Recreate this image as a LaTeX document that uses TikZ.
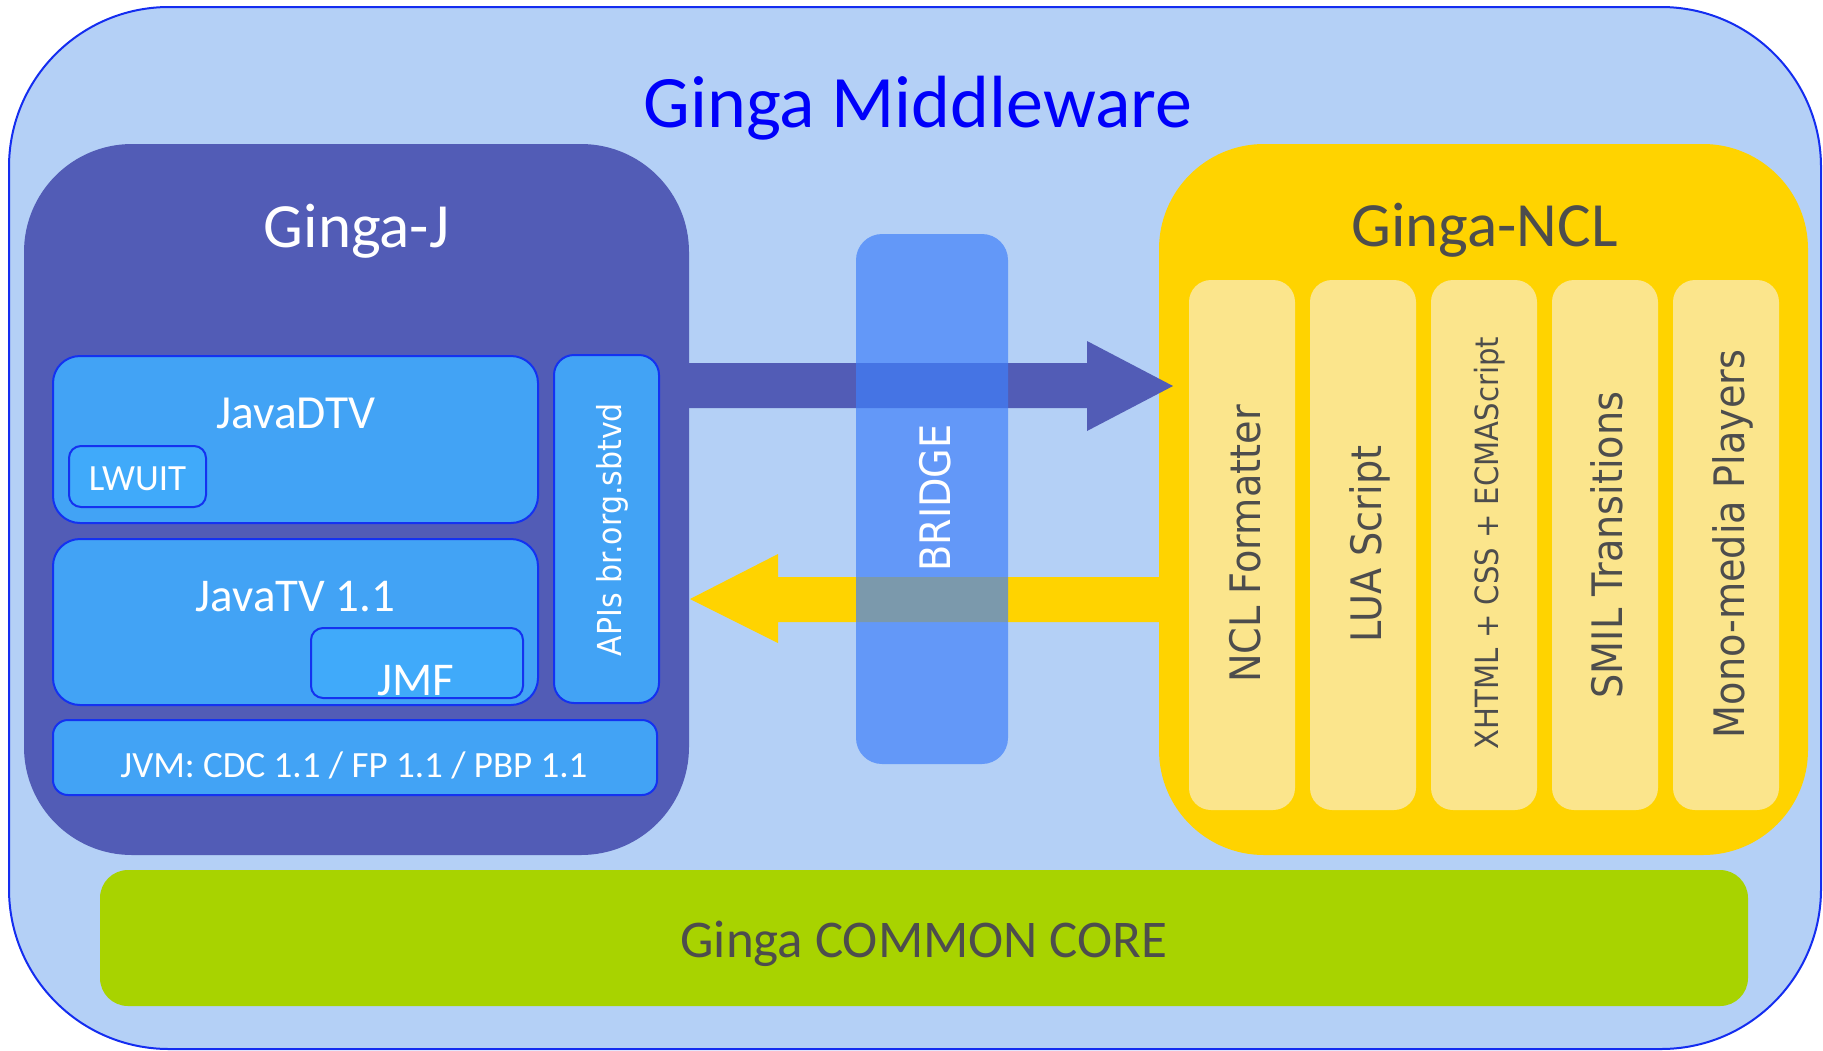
\documentclass[tikz,border=0pt]{standalone}
\usepackage{fontspec}
\setmainfont{Carlito}
\newfontfamily\vfont[FakeStretch=0.91]{DejaVu Sans}
\definecolor{outerfill}{RGB}{180,208,246}
\definecolor{outerline}{RGB}{20,45,240}
\definecolor{gjfill}{RGB}{82,92,182}
\definecolor{jfill}{RGB}{66,163,245}
\definecolor{jfilll}{RGB}{64,170,250}
\definecolor{jline}{RGB}{20,50,240}
\definecolor{bridgec}{RGB}{64,127,250}
\definecolor{nclyellow}{RGB}{255,211,0}
\definecolor{colfill}{RGB}{251,229,140}
\definecolor{coregreen}{RGB}{168,211,0}
\definecolor{txtgray}{RGB}{77,77,77}
\definecolor{titleblue}{RGB}{0,0,250}
\begin{document}
\begin{tikzpicture}[x=1pt,y=-1pt,
  shapebox/.style={rectangle, inner sep=0pt, outer sep=0pt},
  javabox/.style={shapebox, fill=jfill, draw=jline, line width=2pt},
  ncol/.style={shapebox, fill=colfill, rounded corners=22pt, minimum width=106pt, minimum height=530pt},
  lbl/.style={inner sep=0pt, anchor=base},
  vlbl/.style={inner sep=0pt, anchor=base, rotate=90, text=txtgray, font=\vfont\fontsize{42}{46}\selectfont}
]
\useasboundingbox (0,0) rectangle (1823,1050);
% outer frame
\node[shapebox, fill=outerfill, draw=outerline, line width=2pt, rounded corners=160pt,
      minimum width=1812pt, minimum height=1042pt] (frame) at (915,528) {};
\node[lbl, text=titleblue, font=\fontsize{74}{80}\selectfont] (title) at (918,127) {Ginga Middleware};

% Ginga-J
\node[shapebox, fill=gjfill, rounded corners=108pt, minimum width=665pt, minimum height=711pt] (gj) at (356.5,499.5) {};
\node[lbl, text=white, font=\fontsize{63}{68}\selectfont] (gjt) at (356.5,247) {Ginga-J};

% Ginga-NCL
\node[shapebox, fill=nclyellow, rounded corners=105pt, minimum width=649pt, minimum height=711pt] (ncl) at (1483.5,499.5) {};
\node[lbl, text=txtgray, font=\fontsize{63}{68}\selectfont] (nclt) at (1484.5,246) {Ginga-NCL};

% Java boxes
\node[javabox, rounded corners=27pt, minimum width=485pt, minimum height=167pt] (jdtv) at (295.5,439.5) {};
\node[lbl, text=white, font=\fontsize{47.5}{52}\selectfont] (jdtvt) at (296,428.5) {JavaDTV};
\node[javabox, fill=jfilll, rounded corners=12pt, minimum width=137pt, minimum height=61pt] (lwuit) at (137.5,476.5) {};
\node[lbl, text=white, font=\fontsize{37}{40}\selectfont] (lwuitt) at (137.5,490) {LWUIT};

\node[javabox, rounded corners=27pt, minimum width=485pt, minimum height=166pt] (jtv) at (295.5,622) {};
\node[lbl, text=white, font=\fontsize{47}{52}\selectfont] (jtvt) at (295.5,611) {JavaTV 1.1};
\node[javabox, fill=jfilll, rounded corners=12pt, minimum width=212pt, minimum height=70pt] (jmf) at (417,663) {};
\node[lbl, text=white, font=\fontsize{47}{52}\selectfont] (jmft) at (416,695) {JMF};

\node[javabox, rounded corners=20pt, minimum width=105pt, minimum height=348pt] (apis) at (606.5,529) {};
\node[lbl, rotate=90, text=white, font=\vfont\fontsize{33}{36}\selectfont] (apist) at (621,529.5) {APIs br.org.sbtvd};

\node[javabox, rounded corners=15pt, minimum width=604pt, minimum height=75pt] (jvm) at (355,757.5) {};
\node[lbl, text=white, font=\fontsize{37}{40}\selectfont] (jvmt) at (354,777) {JVM: CDC 1.1 / FP 1.1 / PBP 1.1};

% NCL columns
\node[ncol] (c1) at (1242,545) {};
\node[ncol] (c2) at (1363,545) {};
\node[ncol] (c3) at (1484,545) {};
\node[ncol] (c4) at (1605,545) {};
\node[ncol] (c5) at (1726,545) {};
\node[vlbl] (c1t) at (1260,544) {NCL Formatter};
\node[vlbl] (c2t) at (1381,544) {LUA Script};
\node[vlbl, font=\vfont\fontsize{32}{35}\selectfont] (c3t) at (1498,543) {XHTML + CSS + ECMAScript};
\node[vlbl] (c4t) at (1622,545) {SMIL Transitions};
\node[vlbl] (c5t) at (1744,544) {Mono-media Players};

% arrows
\coordinate (ptip) at (1173,386);
\coordinate (ytip) at (690,599);
\fill[gjfill] (gj.east |- 0,363) -- (1087,363) -- (1087,341) -- (ptip) -- (1087,431) -- (1087,408) -- (gj.east |- 0,408) -- cycle;
\fill[nclyellow] (ncl.west |- 0,577) -- (778,577) -- (778,554) -- (ytip) -- (778,643) -- (778,622) -- (ncl.west |- 0,622) -- cycle;

% bridge
\node[shapebox, fill=bridgec, fill opacity=0.69, rounded corners=26pt, minimum width=152pt, minimum height=530pt] (bridge) at (932,499) {};
\node[lbl, rotate=90, text=white, font=\vfont\fontsize{42}{46}\selectfont] (bridget) at (950,498) {BRIDGE};

% common core
\node[shapebox, fill=coregreen, rounded corners=28pt, minimum width=1648pt, minimum height=136pt] (core) at (924,938) {};
\node[lbl, text=txtgray, font=\fontsize{53}{58}\selectfont] (coret) at (924,957) {Ginga COMMON CORE};
\end{tikzpicture}
\end{document}
